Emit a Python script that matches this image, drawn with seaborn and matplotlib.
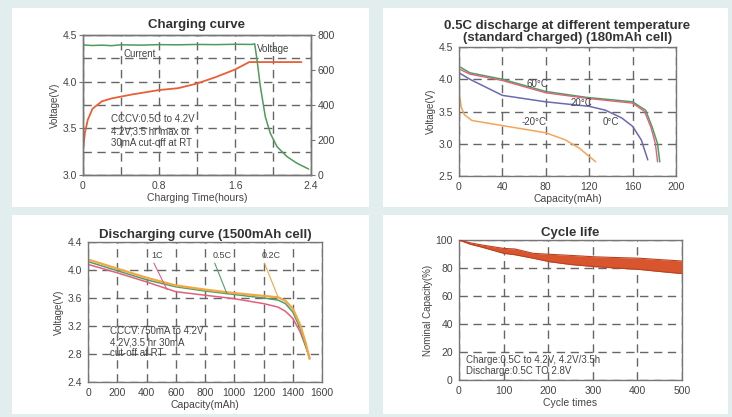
import numpy as np
import pandas as pd
import matplotlib
matplotlib.use("Agg")
import matplotlib.pyplot as plt
from matplotlib.patches import Rectangle
from matplotlib.ticker import MultipleLocator
import seaborn as sns

# ---------------- data ----------------
# Panel 1: charging curve
charge_time_v = [0, 0.02, 0.05, 0.1, 0.2, 0.3, 0.5, 0.8, 1.0, 1.2, 1.4, 1.6, 1.75, 1.8, 2.0, 2.3]
charge_voltage = [3.27, 3.45, 3.59, 3.71, 3.79, 3.82, 3.86, 3.91, 3.93, 3.98, 4.05, 4.13, 4.21, 4.21, 4.21, 4.21]
charge_time_c = [0, 0.1, 0.2, 0.3, 0.4, 0.6, 0.8, 1.0, 1.2, 1.4, 1.6, 1.78, 1.807, 1.832, 1.867,
                 1.919, 1.972, 2.042, 2.147, 2.253, 2.375]
charge_current = [743, 740, 742, 739, 744, 742, 745, 744, 746, 745, 747, 746, 750, 657, 505,
                  333, 238, 162, 105, 67, 34]

# Panel 2: 0.5C discharge at different temperatures
t60_cap = [0, 10, 40, 80, 117, 160, 172, 178, 183, 185]
t60_v = [4.20, 4.10, 4.00, 3.81, 3.72, 3.65, 3.52, 3.26, 3.00, 2.72]
t20_cap = [0, 10, 40, 80, 120, 160, 171, 177, 181, 183]
t20_v = [4.16, 4.08, 3.98, 3.79, 3.70, 3.63, 3.50, 3.25, 3.00, 2.72]
t0_cap = [0, 10, 40, 80, 120, 135, 150, 160, 168, 174]
t0_v = [4.10, 4.00, 3.75, 3.65, 3.58, 3.52, 3.40, 3.27, 3.06, 2.75]
tm20_cap = [0, 2, 5, 12, 37, 80, 98, 111, 126]
tm20_v = [3.82, 3.57, 3.45, 3.36, 3.29, 3.17, 3.06, 2.93, 2.72]
temp_labels = ["60\u00b0C", "20\u00b0C", "0\u00b0C", "-20\u00b0C"]

# Panel 3: discharging curve (1500mAh cell)
dis_cap = [0, 200, 400, 600, 800, 1000, 1200, 1300, 1350, 1400, 1450, 1490, 1515]
dis_02c = [4.15, 4.02, 3.89, 3.78, 3.72, 3.67, 3.63, 3.61, 3.56, 3.45, 3.22, 2.95, 2.73]
dis_05c = [4.12, 3.99, 3.86, 3.76, 3.70, 3.65, 3.60, 3.57, 3.52, 3.40, 3.17, 2.90, 2.74]
dis_1c = [4.08, 3.96, 3.83, 3.69, 3.64, 3.59, 3.52, 3.47, 3.41, 3.31, 3.12, 2.90, 2.75]
rate_labels = ["1C", "0.5C", "0.2C"]

# Panel 4: cycle life band
cycles = [0, 25, 50, 100, 125, 166, 203, 250, 304, 350, 404, 450, 500]
cap_upper = [100, 98, 96.5, 94, 93.6, 90.5, 89.8, 89, 88, 87.5, 87, 86, 85]
cap_lower = [100, 97, 95, 90.5, 89.5, 87, 84.5, 82.5, 81, 80, 79, 77.5, 76]

# ---------------- style ----------------
sns.set_style("white")
plt.rcParams["font.family"] = ["Liberation Sans", "DejaVu Sans"]

W, H = 732, 417
fig = plt.figure(figsize=(W / 100, H / 100), dpi=100)
fig.patch.set_facecolor("#e2eeee")

def px_rect(x0, y0, x1, y1):
    return [x0 / W, 1 - y1 / H, (x1 - x0) / W, (y1 - y0) / H]

# white panels
for (x0, y0, x1, y1) in [(12, 8, 369, 207), (383, 8, 728, 207),
                         (12, 215, 369, 414), (383, 215, 728, 414)]:
    fig.patches.append(Rectangle((x0 / W, 1 - y1 / H), (x1 - x0) / W, (y1 - y0) / H,
                                 transform=fig.transFigure, facecolor="white",
                                 edgecolor="none", zorder=-10))

TXT = "#444444"
GRID = dict(color="#666666", linestyle=(0, (6, 4)), linewidth=1.0)

def style_ax(ax):
    ax.set_facecolor("white")
    for s in ax.spines.values():
        s.set_color("#777777")
        s.set_linewidth(1.0)
    ax.tick_params(axis="both", which="major", labelsize=7.5, colors="#777777",
                   labelcolor=TXT, length=3, width=0.8, pad=1.5)
    ax.tick_params(axis="both", which="minor", length=0)
    ax.set_axisbelow(True)

def titles(ax, title, xl, yl, tpad=3):
    ax.set_title(title, fontsize=9.5, fontweight="bold", color="#333333", pad=tpad)
    ax.set_xlabel(xl, fontsize=7.5, color=TXT, labelpad=1)
    ax.set_ylabel(yl, fontsize=7, color=TXT, labelpad=2)

# ---------------- panel 1 ----------------
ax1 = fig.add_axes(px_rect(83, 35, 311, 175))
style_ax(ax1)
ax1.set_xlim(0, 2.4)
ax1.set_ylim(3.0, 4.5)
ax1.set_xticks([0, 0.8, 1.6, 2.4])
ax1.set_xticklabels(["0", "0.8", "1.6", "2.4"])
ax1.set_yticks([3.0, 3.5, 4.0, 4.5])
ax1.xaxis.set_minor_locator(MultipleLocator(0.4))
ax1.yaxis.set_minor_locator(MultipleLocator(0.25))
ax1.grid(True, which="both", **GRID)
sns.lineplot(x=charge_time_v, y=charge_voltage, ax=ax1, color="#ea5f35", lw=1.3, estimator=None)
ax1r = ax1.twinx()
style_ax(ax1r)
ax1r.set_ylim(0, 800)
ax1r.set_yticks([0, 200, 400, 600, 800])
ax1r.grid(False)
sns.lineplot(x=charge_time_c, y=charge_current, ax=ax1r, color="#4f9a5c", lw=1.1, estimator=None)
ax1.text(0.43, 4.30, "Current", fontsize=7, color=TXT, va="center")
ax1.text(1.83, 4.35, "Voltage", fontsize=7, color=TXT, va="center")
ax1.text(0.29, 3.47, "CCCV:0.5C to 4.2V\n4.2V,3.5 hr max or\n30mA cut-off at RT",
         fontsize=7, color=TXT, va="center", linespacing=1.25)
titles(ax1, "Charging curve", "Charging Time(hours)", "Voltage(V)", tpad=5)

# ---------------- panel 2 ----------------
ax2 = fig.add_axes(px_rect(459, 47, 676, 176))
style_ax(ax2)
ax2.set_xlim(0, 200)
ax2.set_ylim(2.5, 4.5)
ax2.set_xticks([0, 40, 80, 120, 160, 200])
ax2.set_yticks([2.5, 3.0, 3.5, 4.0, 4.5])
ax2.grid(True, which="major", **GRID)
sns.lineplot(x=t60_cap, y=t60_v, ax=ax2, color="#4c9f62", lw=1.1, estimator=None)
sns.lineplot(x=t20_cap, y=t20_v, ax=ax2, color="#e0607a", lw=1.0, estimator=None)
sns.lineplot(x=t0_cap, y=t0_v, ax=ax2, color="#6a6ab2", lw=1.1, estimator=None)
sns.lineplot(x=tm20_cap, y=tm20_v, ax=ax2, color="#f3a55a", lw=1.1, estimator=None)
ax2.text(62, 3.93, temp_labels[0], fontsize=7, color=TXT, va="center")
ax2.text(103, 3.63, temp_labels[1], fontsize=7, color=TXT, va="center")
ax2.text(132, 3.34, temp_labels[2], fontsize=7, color=TXT, va="center")
ax2.text(58, 3.34, temp_labels[3], fontsize=7, color=TXT, va="center")
titles(ax2, "0.5C discharge at different temperature\n(standard charged) (180mAh cell)",
       "Capacity(mAh)", "Voltage(V)", tpad=4)
ax2.title.set_linespacing(1.0)

# ---------------- panel 3 ----------------
ax3 = fig.add_axes(px_rect(88, 242, 322, 382))
style_ax(ax3)
ax3.set_xlim(0, 1600)
ax3.set_ylim(2.4, 4.4)
ax3.set_xticks(np.arange(0, 1601, 200))
ax3.set_yticks([2.4, 2.8, 3.2, 3.6, 4.0, 4.4])
ax3.grid(True, which="major", **GRID)
sns.lineplot(x=dis_cap, y=dis_1c, ax=ax3, color="#e2607e", lw=1.1, estimator=None)
sns.lineplot(x=dis_cap, y=dis_05c, ax=ax3, color="#4f9f6e", lw=1.1, estimator=None)
sns.lineplot(x=dis_cap, y=dis_02c, ax=ax3, color="#f2a744", lw=1.6, estimator=None)
ax3.annotate(rate_labels[0], xy=(540, 3.72), xytext=(430, 4.21), fontsize=6.5, color=TXT,
             va="center", arrowprops=dict(arrowstyle="-", color="#e2607e", lw=0.8,
                                          shrinkA=0, shrinkB=0, relpos=(0, 0.3)))
ax3.annotate(rate_labels[1], xy=(950, 3.66), xytext=(850, 4.21), fontsize=6.5, color=TXT,
             va="center", arrowprops=dict(arrowstyle="-", color="#4f9f6e", lw=0.8,
                                          shrinkA=0, shrinkB=0, relpos=(0, 0.3)))
ax3.annotate(rate_labels[2], xy=(1300, 3.61), xytext=(1190, 4.21), fontsize=6.5, color=TXT,
             va="center", arrowprops=dict(arrowstyle="-", color="#f2a744", lw=0.8,
                                          shrinkA=0, shrinkB=0, relpos=(0, 0.3)))
ax3.text(150, 2.97, "CCCV:750mA to 4.2V\n4.2V,3.5 hr 30mA\ncut-off at RT",
         fontsize=7, color=TXT, va="center", linespacing=1.1)
titles(ax3, "Discharging curve (1500mAh cell)", "Capacity(mAh)", "Voltage(V)")

# ---------------- panel 4 ----------------
ax4 = fig.add_axes(px_rect(459, 240, 682, 380))
style_ax(ax4)
ax4.set_xlim(0, 500)
ax4.set_ylim(0, 100)
ax4.set_xticks(np.arange(0, 501, 100))
ax4.set_yticks(np.arange(0, 101, 20))
ax4.grid(True, which="major", **GRID)
band = pd.DataFrame({"cycle": cycles, "upper": cap_upper, "lower": cap_lower})
ax4.fill_between(band["cycle"], band["lower"], band["upper"], color="#d9552e", lw=0, zorder=3)
sns.lineplot(data=band, x="cycle", y="upper", ax=ax4, color="#b8431f", lw=0.8, zorder=4)
sns.lineplot(data=band, x="cycle", y="lower", ax=ax4, color="#b8431f", lw=0.8, zorder=4)
ax4.text(16, 14.2, "Charge:0.5C to 4.2V, 4.2V/3.5h", fontsize=7, color=TXT, va="center")
ax4.text(16, 6.5, "Discharge:0.5C TO 2.8V", fontsize=7, color=TXT, va="center")
titles(ax4, "Cycle life", "Cycle times", "Nominal Capacity(%)")

fig.savefig("out.png", dpi=100, facecolor=fig.get_facecolor())
